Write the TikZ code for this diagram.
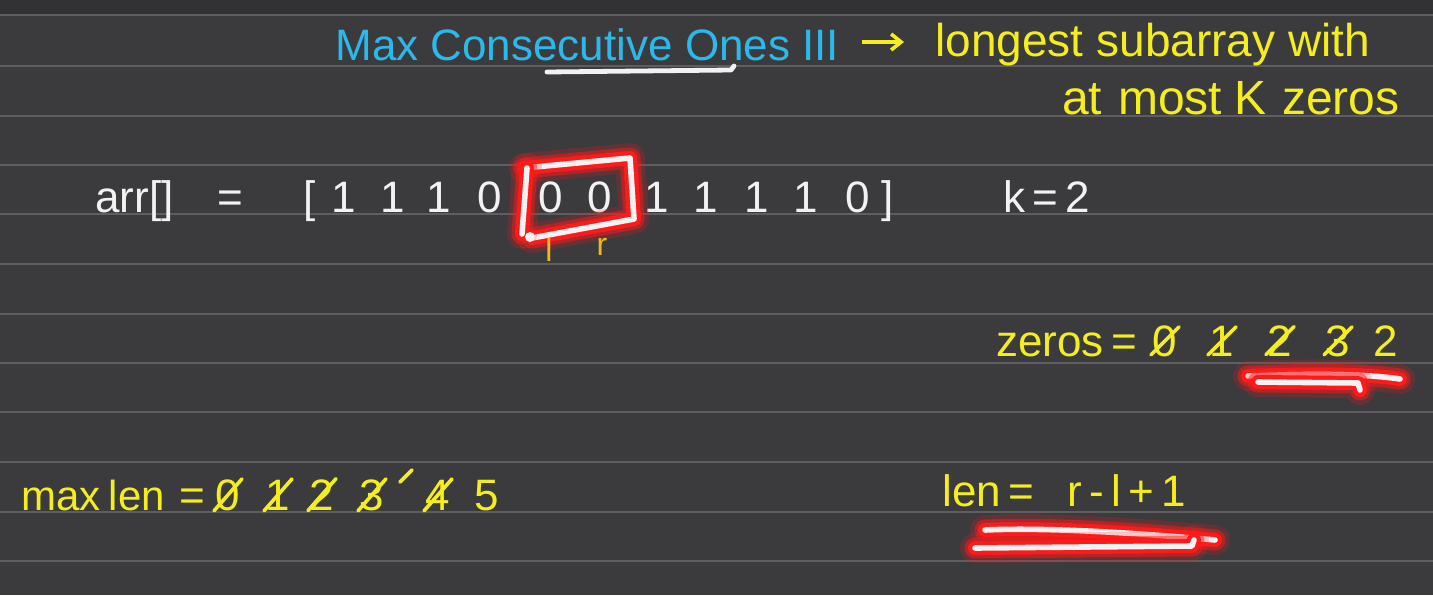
\documentclass[tikz,border=0pt]{standalone}
\usepackage{fontspec}
\setmainfont{Liberation Sans}
\usetikzlibrary{arrows.meta}
\definecolor{bg}{HTML}{3B3A3D}
\definecolor{bgtop}{HTML}{323134}
\definecolor{rulec}{HTML}{5E5D60}
\definecolor{cyanink}{HTML}{2BB8EA}
\definecolor{yellowink}{HTML}{F4EE1E}
\definecolor{whiteink}{HTML}{F2F2F2}
\definecolor{orangeink}{HTML}{F2B91E}
\definecolor{redglow}{HTML}{FF1A1A}
\tikzset{
  rule/.style={draw=rulec, line width=0.9pt},
  hw/.style={inner sep=0pt, font=\fontsize{22}{24}\selectfont},
  cy/.style={hw, text=cyanink},
  yl/.style={hw, text=yellowink},
  wh/.style={hw, text=whiteink},
  strike/.style={draw=yellowink, line width=1.8pt, line cap=round},
  glow/.style={line cap=round, line join=round},
  inkline/.style={draw=whiteink, line width=2.4pt, line cap=round, line join=round},
}
\newcommand{\glowpath}[1]{%
  \draw[glow, redglow, opacity=0.2, line width=15pt] #1;
  \draw[glow, redglow, opacity=0.5, line width=10.5pt] #1;
  \draw[glow, redglow, line width=7pt] #1;
  \draw[glow, whiteink, line width=2.8pt] #1;
}
\begin{document}
\begin{tikzpicture}[x=0.5pt,y=-0.5pt]
\fill[bg] (0,0) rectangle (1433,595);
\fill[bgtop] (0,0) rectangle (1433,14);
\useasboundingbox (0,0) rectangle (1433,595);
\foreach \yy in {15,66,116,165,214,264,314,363,412,462,512,561}
  \draw[rule] (0,\yy) -- (1433,\yy);

% title
\node[cy, anchor=west] (title) at (335,45) {Max Consecutive Ones III};
\draw[inkline] (547,72) -- (731,70) -- (734,66);
\coordinate (ar1) at (862,42);
\coordinate (ar2) at (904,42);
\draw[draw=yellowink, line width=1.8pt, -{Straight Barb[length=5pt,width=8pt]}] (ar1) -- (ar2);
\node[yl, anchor=west, font=\fontsize{23}{25}\selectfont] (longest) at (935,45) {longest subarray with};
\node[yl, anchor=east, font=\fontsize{24}{26}\selectfont] (atmost) at (1400,98) {at\hspace{8pt}most\hspace{6pt}K\hspace{8pt}zeros};

% array line (baseline 212)
\node[wh, anchor=base west] (arr) at (95,212) {arr[]\hspace{22pt}=};
\node[wh, anchor=base] (lb) at (310,212) {[};
\foreach \xx/\vv [count=\i from 0] in {344/1,393/1,439/1,490/0,551/0,600/0,657/1,706/1,757/1,806/1,858/0}
  \node[wh, anchor=base] (a\i) at (\xx,212) {\vv};
\node[wh, anchor=base] (rb) at (888,212) {]};
\node[wh, anchor=base] (k) at (1047,212) {k\,=\,2};

% red box
\glowpath{(524,168) -- (630,158) -- (634,219) -- (532,238)}
\glowpath{(527,168) -- (522,234)}
\fill[whiteink] (530,237) circle (5);
\node[hw, text=orangeink, font=\fontsize{16}{18}\selectfont] (lp) at (549,250) {l};
\node[hw, text=orangeink, font=\fontsize{16}{18}\selectfont] (rp) at (602,247) {r};

% zeros line (baseline 356)
\node[yl, anchor=base] (zeros) at (1050,356) {zeros};
\node[yl, anchor=base] (zeq) at (1124,356) {=};
\foreach \xx/\vv [count=\i from 0] in {1165/0,1222/1,1280/2,1338/3,1386/2}
  \node[yl, anchor=base] (z\i) at (\xx,356) {\vv};
\foreach \i in {0,1,2,3}
  \draw[strike] ([xshift=-7pt,yshift=-7pt]z\i.center) -- ([xshift=7pt,yshift=7pt]z\i.center);
\glowpath{(1248,376) .. controls (1300,374) and (1360,373) .. (1400,379)}
\glowpath{(1258,382) -- (1358,383) -- (1360,390)}

% maxlen line (baseline 510)
\node[yl, anchor=base west, font=\fontsize{21}{23}\selectfont] (maxlen) at (21,510) {max\hspace{4pt}len};
\node[yl, anchor=base] (meq) at (192,510) {=};
\foreach \xx/\vv [count=\i from 0] in {228/0,278/1,322/2,372/3,438/4,487/5}
  \node[yl, anchor=base] (m\i) at (\xx,510) {\vv};
\foreach \i in {0,1,2,3,4}
  \draw[strike] ([xshift=-7pt,yshift=-8pt]m\i.center) -- ([xshift=7pt,yshift=8pt]m\i.center);
\draw[strike] (400,482) -- (412,470);

% len line (baseline 506)
\node[yl, anchor=base] (len) at (972,506) {len};
\node[yl, anchor=base] (leq) at (1021,506) {=};
\node[yl, anchor=base west] (formula) at (1067,506) {r\,-\,l\,+\,1};
\glowpath{(985,530) .. controls (1050,527) and (1150,534) .. (1215,540)}
\glowpath{(975,548) -- (1192,546) -- (1194,540)}
\end{tikzpicture}
\end{document}
